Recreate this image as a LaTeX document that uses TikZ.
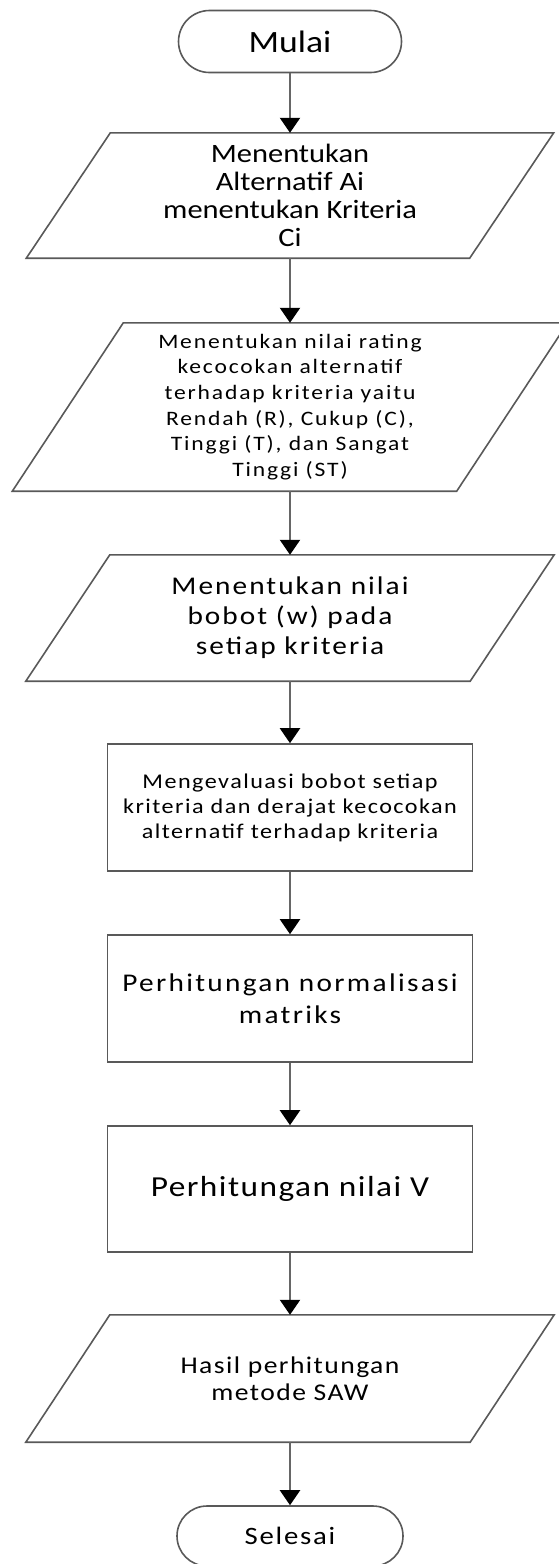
\documentclass[tikz,border=0pt]{standalone}
\usepackage{fontspec}
\setmainfont[FakeStretch=1.15]{Carlito}
\usetikzlibrary{arrows.meta,shapes.misc}
\begin{document}
\begin{tikzpicture}[x=1pt,y=-1pt,
  outline/.style={draw=black!65, line width=1.6pt},
  terminal/.style={rounded rectangle, outline, minimum height=62pt, inner sep=0pt, align=center},
  procbox/.style={rectangle, outline, minimum width=365pt, inner sep=0pt, align=center},
  iobody/.style={rectangle, draw=none, inner sep=0pt, align=center},
  flow/.style={draw=black!60, line width=2.2pt, -{Triangle[width=20pt,length=15pt,color=black]}},
  fsz/.style n args={3}{font={\fontsize{#1}{#2}\selectfont\addfontfeatures{LetterSpace=#3}}}
]
\useasboundingbox (0,0) rectangle (558,1564);

% start / end
\node[terminal, minimum width=223pt, fsz={31}{36}{0}] (start) at (290,41.5) {Mulai};

% input/output blocks (bodies; the slanted outlines are drawn below)
\node[iobody, minimum width=527pt, minimum height=125pt, fsz={26.5}{28}{0}] (in1) at (290,195.5)
  {Menentukan\\Alternatif Ai\\menentukan Kriteria\\Ci};
\node[iobody, minimum width=555pt, minimum height=168pt, fsz={20.5}{25.6}{9}] (in2) at (290,407)
  {Menentukan nilai rating\\kecocokan alternatif\\terhadap kriteria yaitu\\Rendah (R), Cukup (C),\\Tinggi (T), dan Sangat\\Tinggi (ST)};
\node[iobody, minimum width=528pt, minimum height=126pt, fsz={25.5}{30}{8}] (in3) at (290,618)
  {Menentukan nilai\\bobot (w) pada\\setiap kriteria};

% process blocks
\node[procbox, minimum height=127pt, fsz={21}{25}{7}] (pr1) at (290,807.5)
  {Mengevaluasi bobot setiap\\kriteria dan derajat kecocokan\\alternatif terhadap kriteria};
\node[procbox, minimum height=127pt, fsz={25.5}{32}{9}] (pr2) at (290,998.5)
  {Perhitungan normalisasi\\matriks};
\node[procbox, minimum height=126pt, fsz={29}{34}{5}] (pr3) at (290,1189)
  {Perhitungan nilai V};

\node[iobody, minimum width=528pt, minimum height=127pt, fsz={24}{26.5}{6}] (out) at (290,1378.5)
  {Hasil perhitungan\\metode SAW};

\node[terminal, minimum width=226pt, minimum height=60pt, fsz={25}{30}{7}] (stop) at (290,1536) {Selesai};

% slanted outlines of the input/output blocks
\draw[outline] (in1.south west) -- ([xshift=84pt]in1.north west) -- (in1.north east) -- ([xshift=-84pt]in1.south east) -- cycle;
\draw[outline] (in2.south west) -- ([xshift=111pt]in2.north west) -- (in2.north east) -- ([xshift=-111pt]in2.south east) -- cycle;
\draw[outline] (in3.south west) -- ([xshift=84pt]in3.north west) -- (in3.north east) -- ([xshift=-84pt]in3.south east) -- cycle;
\draw[outline] (out.south west) -- ([xshift=84pt]out.north west) -- (out.north east) -- ([xshift=-84pt]out.south east) -- cycle;

% flow
\draw[flow] (start.south) -- (in1.north);
\draw[flow] (in1.south) -- (in2.north);
\draw[flow] (in2.south) -- (in3.north);
\draw[flow] (in3.south) -- (pr1.north);
\draw[flow] (pr1.south) -- (pr2.north);
\draw[flow] (pr2.south) -- (pr3.north);
\draw[flow] (pr3.south) -- (out.north);
\draw[flow] (out.south) -- (stop.north);
\end{tikzpicture}
\end{document}
